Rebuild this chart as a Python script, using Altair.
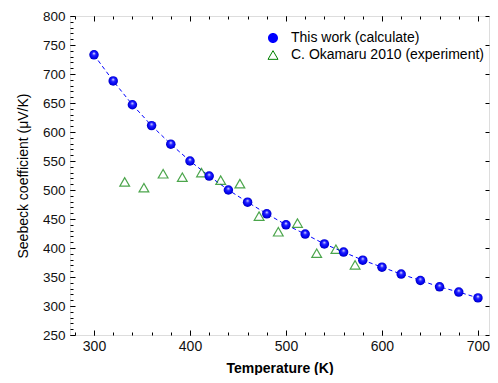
import altair as alt
import pandas as pd

# ---- data ----
calc_T = [300, 320, 340, 360, 380, 400, 420, 440, 460, 480, 500, 520, 540, 560, 580, 600, 620, 640, 660, 680, 700]
calc_S = [733, 688, 647, 611, 579, 550, 524, 500, 479, 459, 440, 424, 407, 393, 379, 367, 355, 344, 333, 324, 314]
exp_T = [332, 352, 372, 392, 412, 432, 452, 472, 492, 512, 532, 552, 572]
exp_S = [514, 504, 528, 522, 530, 517, 511, 455, 428, 443, 391, 398, 371]
series_names = ["This work (calculate)", "C. Okamaru 2010 (experiment)"]
x_major = [300, 400, 500, 600, 700]
x_minor = list(range(280, 711, 20))
y_major = list(range(250, 801, 50))
y_minor = list(range(250, 801, 10))

calc = pd.DataFrame({"T": calc_T, "S": calc_S, "series": series_names[0]})
exp = pd.DataFrame({"T": exp_T, "S": exp_S, "series": series_names[1]})

FONT = "Liberation Sans"
xs = alt.Scale(domain=[275, 711.5], nice=False, zero=False)
ys = alt.Scale(domain=[250, 800], nice=False, zero=False)


def xaxis(orient, values, size, labels=False, title=None):
    kw = dict(orient=orient, values=values, tickSize=size, offset=-size, domain=False,
              grid=False, labels=labels, tickColor="black", tickWidth=1)
    if labels:
        kw.update(labelFont=FONT, labelFontSize=14, labelColor="#111", labelPadding=4)
    if title:
        kw.update(title=title, titleFont=FONT, titleFontSize=14, titleFontWeight="bold",
                  titleColor="black", titlePadding=8)
    else:
        kw.update(title=None)
    return alt.Axis(**kw)


def yaxis(orient, values, size, labels=False, title=None):
    kw = dict(orient=orient, values=values, tickSize=size, offset=-size, domain=False,
              grid=False, labels=labels, tickColor="black", tickWidth=1)
    if labels:
        kw.update(labelFont=FONT, labelFontSize=13.5, labelColor="#111", labelPadding=5)
    if title:
        kw.update(title=title, titleFont=FONT, titleFontSize=14, titleFontWeight="normal",
                  titleColor="black", titlePadding=12)
    else:
        kw.update(title=None)
    return alt.Axis(**kw)


def legend(y, **extra):
    return alt.Legend(title=None, orient="none", legendX=196, legendY=y,
                      labelFont=FONT, labelFontSize=14, labelColor="black",
                      labelLimit=0, labelOffset=11, padding=0, symbolSize=100,
                      symbolOpacity=1, symbolStrokeWidth=1, **extra)


line = alt.Chart(calc).mark_line(color="#0000ff", strokeWidth=1, strokeDash=[4, 3]).encode(
    x=alt.X("T:Q", scale=xs, axis=xaxis("bottom", x_major, 5, labels=True, title="Temperature (K)")),
    y=alt.Y("S:Q", scale=ys, axis=yaxis("left", y_major, 5, labels=True, title="Seebeck coefficient (μV/K)")),
)

legend_path = "M-3.2,0H-1M1,0H3.2M-1,0A1,1 0 1,0 1,0A1,1 0 1,0 -1,0Z"
legend_layer = alt.Chart(calc).mark_point(opacity=0, filled=False, fill="#0000ff", stroke="#0000ff",
                                          strokeWidth=1, size=100).encode(
    x=alt.X("T:Q", scale=xs, axis=xaxis("bottom", x_minor, 3)),
    y=alt.Y("S:Q", scale=ys, axis=yaxis("left", y_minor, 3)),
    shape=alt.Shape("series:N", scale=alt.Scale(domain=[series_names[0]], range=[legend_path]),
                    legend=legend(15, symbolFillColor="#0000ff", symbolStrokeColor="#0000ff")),
)

tri = alt.Chart(exp).mark_point(shape="triangle-up", size=95, strokeWidth=1.2,
                                 fill="rgba(0,0,0,0)").encode(
    x=alt.X("T:Q", scale=xs, axis=xaxis("top", x_major, 5)),
    y=alt.Y("S:Q", scale=ys, axis=yaxis("right", y_major, 4)),
    stroke=alt.Stroke("series:N", scale=alt.Scale(domain=[series_names[1]], range=["#008000"]),
                      legend=legend(32, symbolType="triangle-up", symbolFillColor="rgba(0,0,0,0)",
                                    symbolStrokeColor="#008000")),
)

grad = alt.RadialGradient(
    gradient="radial", x1=0.5, y1=0.33, r1=0.0, x2=0.5, y2=0.5, r2=0.55,
    stops=[alt.GradientStop(offset=0, color="#ffffff"),
           alt.GradientStop(offset=0.15, color="#9090ff"),
           alt.GradientStop(offset=0.35, color="#2020ff"),
           alt.GradientStop(offset=0.75, color="#0000ee"),
           alt.GradientStop(offset=1, color="#000090")],
)
spheres = alt.Chart(calc).mark_point(shape="circle", size=90, filled=True, fill=grad, opacity=1,
                                     strokeWidth=0).encode(
    x=alt.X("T:Q", scale=xs, axis=xaxis("top", x_minor, 3)),
    y=alt.Y("S:Q", scale=ys, axis=None),
)

chart = alt.layer(line, legend_layer, tri, spheres).resolve_axis(
    x="independent", y="independent"
).resolve_scale(x="shared", y="shared").properties(
    width=419, height=319,
    autosize=alt.AutoSizeParams(type="none"),
    padding={"left": 62, "top": 8, "right": 1, "bottom": 40},
).configure_view(stroke="black", strokeWidth=1.2).configure(background="white")

chart.save("out.html", embed_options={"renderer": "svg", "actions": False})
